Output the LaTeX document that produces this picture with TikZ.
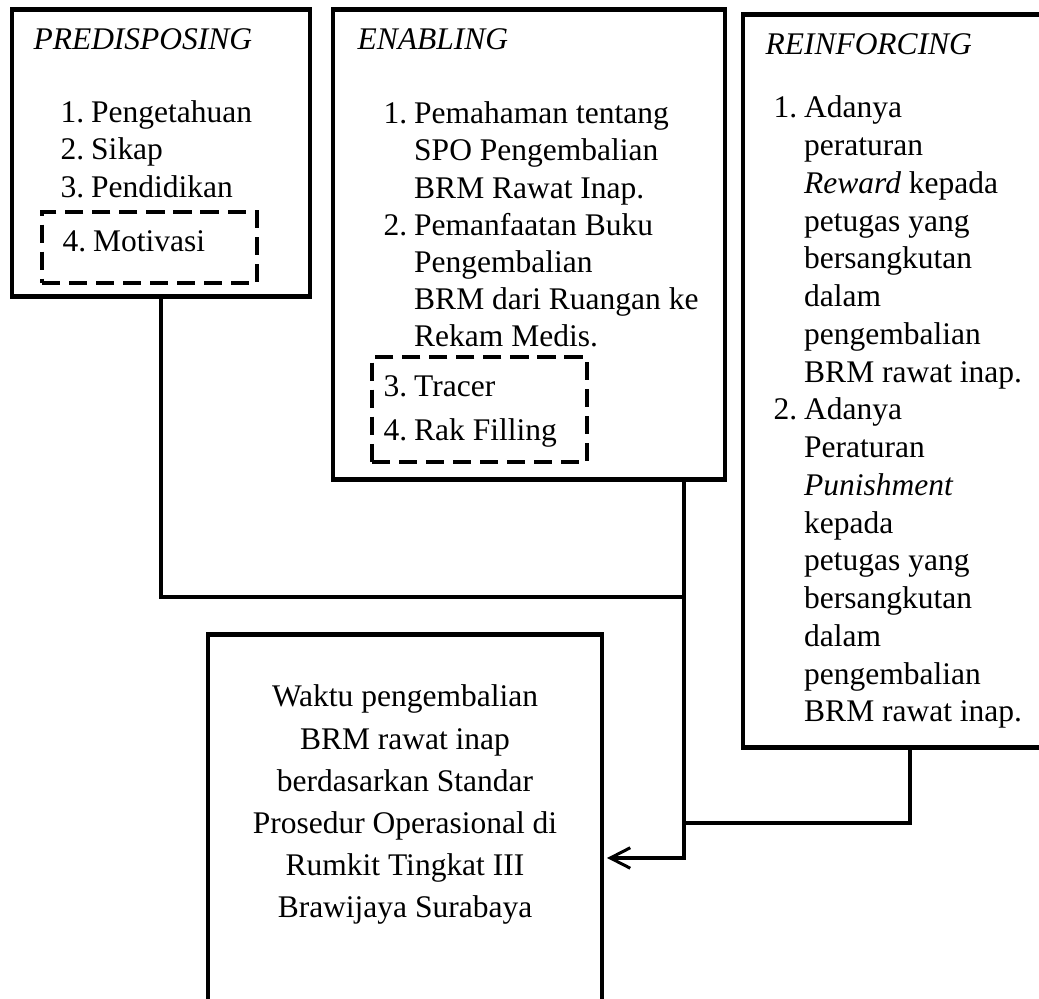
\documentclass[tikz,border=0pt]{standalone}
\usepackage{fontspec}
\setmainfont{Liberation Serif}
\usetikzlibrary{fit, arrows.meta}

\newcommand{\lst}[1]{\begin{tabular}[t]{@{}p{11.7pt}@{}l@{}}#1\end{tabular}}

\begin{document}
\begin{tikzpicture}
	[x=0.381pt, y=-0.381pt,
	box/.style={draw, line width=1.9pt, inner sep=0pt},
	dashbox/.style={draw, line width=1.5pt, inner sep=0pt, dash pattern=on 6.9pt off 3.4pt},
	txt/.style={anchor=base west, inner sep=0pt, font=\fontsize{12}{14.1}\selectfont},
	conn/.style={line width=1.15pt}]
	\useasboundingbox (0,0) rectangle (1039,999);
	% predisposing
	\node[box] (pre) [fit={(12,10) (310,297)}] {};
	\node[txt] (pre-t) at (33,50) {\textit{PREDISPOSING}};
	\node[txt] (pre-l) at (60,123) {\lst{1. & Pengetahuan\\ 2. & Sikap\\ 3. & Pendidikan}};
	\node[dashbox] (pre-d) [fit={(42,212) (257,283)}] {};
	\node[txt] (pre-m) at (62,252) {\lst{4. & Motivasi}};
	% enabling
	\node[box] (en) [fit={(333,10) (725,480)}] {};
	\node[txt] (en-t) at (357,50) {\textit{ENABLING}};
	\node[txt] (en-l) at (383,124) {\lst{1. & Pemahaman tentang\\ & SPO Pengembalian\\ & BRM Rawat Inap.\\
		2. & Pemanfaatan Buku\\ & Pengembalian\\ & BRM dari Ruangan ke\\ & Rekam Medis.}};
	\node[dashbox] (en-d) [fit={(372,357) (587,462)}] {};
	\node[txt] (en-m) at (383,397) {\renewcommand{\arraystretch}{1.17}\lst{3. & Tracer\\ 4. & Rak Filling}};
	% reinforcing
	\node[box] (rein) [fit={(743,15) (1077,748)}] {};
	\node[txt] (rein-t) at (765,55) {\textit{REINFORCING}};
	\node[txt] (rein-l) at (773,118) {\renewcommand{\arraystretch}{1.02}\lst{1. & Adanya\\ & peraturan\\ & \textit{Reward} kepada\\
		& petugas yang\\ & bersangkutan\\ & dalam\\ & pengembalian\\ & BRM rawat inap.\\
		2. & Adanya\\ & Peraturan\\ & \textit{Punishment}\\ & kepada\\ & petugas yang\\ & bersangkutan\\
		& dalam\\ & pengembalian\\ & BRM rawat inap.}};
	% outcome
	\node[box] (out) [fit={(208,635) (602,1040)}] {};
	\node[txt, anchor=base] (out-t) at (405,707) {\renewcommand{\arraystretch}{1.14}%
		\begin{tabular}[t]{@{}c@{}}Waktu pengembalian\\ BRM rawat inap\\ berdasarkan Standar\\
		Prosedur Operasional di\\ Rumkit Tingkat III\\ Brawijaya Surabaya\end{tabular}};
	% connectors
	\coordinate (j1) at (684,597);
	\coordinate (j2) at (684,823);
	\coordinate (tip) at (607,858);
	\draw[conn] (pre.south) |- (j1);
	\draw[conn] (rein.south) |- (j2);
	\draw[conn, -{Straight Barb[length=7.6pt, width=7.8pt]}] (en.south -| j1) |- (tip);
\end{tikzpicture}
\end{document}
